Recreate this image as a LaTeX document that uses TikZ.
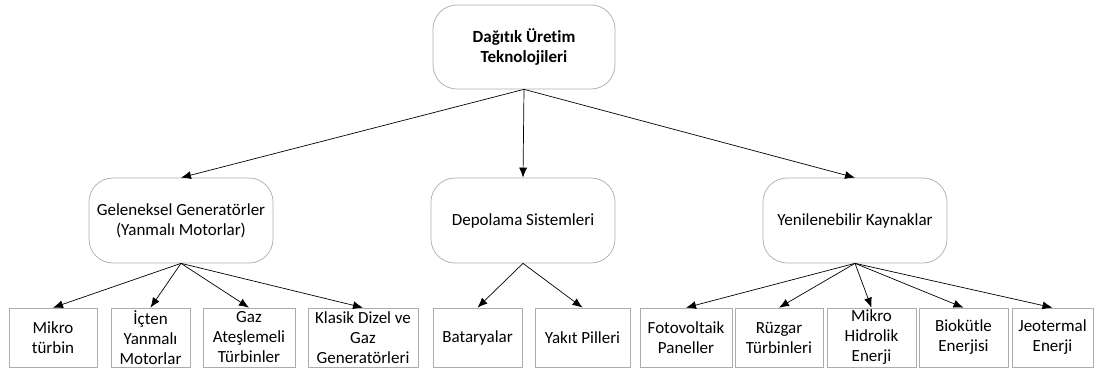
\documentclass[tikz,border=0pt]{standalone}
\usepackage{fontspec}
\setmainfont[Ligatures=NoCommon]{Carlito}
\usetikzlibrary{arrows.meta}
\tikzset{
  yazi/.style={font=\fontsize{17}{20}\selectfont},
  grupkutu/.style={draw=gray!65, line width=0.7pt, rounded corners=24pt, align=center, inner sep=0pt, minimum width=184pt, minimum height=85pt, yazi},
  altkutu/.style={draw=gray!65, line width=0.7pt, align=center, inner sep=0pt, minimum height=59pt, yazi},
  ok/.style={-{Latex[length=10pt,width=8pt]}, line width=0.7pt}
}
\begin{document}
\begin{tikzpicture}[x=1pt,y=-1pt]
    \useasboundingbox (0,0) rectangle (1094,369); % fixes the page size
    % top and middle level
    \node[grupkutu, minimum width=182pt, minimum height=84pt, font=\fontsize{17}{20}\selectfont\bfseries] (ana) at (524,47) {Dağıtık Üretim\\Teknolojileri};
    \node[grupkutu] (geleneksel) at (181,220.5) {Geleneksel Generatörler\\(Yanmalı Motorlar)};
    \node[grupkutu] (depolama) at (523,220.5) {Depolama Sistemleri};
    \node[grupkutu] (yenilenebilir) at (855,220.5) {Yenilenebilir Kaynaklar};
    % bottom level
    \node[altkutu, minimum width=88pt] (mikro) at (53,337.5) {Mikro\\türbin};
    \node[altkutu, minimum width=79pt] (icten) at (150.5,337.5) {İçten\\Yanmalı\\Motorlar};
    \node[altkutu, minimum width=92pt] (gaz) at (249,337.5) {Gaz\\Ateşlemeli\\Türbinler};
    \node[altkutu, minimum width=110pt] (klasik) at (363,337.5) {Klasik Dizel ve\\Gaz\\Generatörleri};
    \node[altkutu, minimum width=89pt] (batarya) at (477.5,337.5) {Bataryalar};
    \node[altkutu, minimum width=95pt] (yakit) at (582.5,337.5) {Yakıt Pilleri};
    \node[altkutu, minimum width=92pt] (foto) at (686,337.5) {Fotovoltaik\\Paneller};
    \node[altkutu, minimum width=88pt] (ruzgar) at (779,337.5) {Rüzgar\\Türbinleri};
    \node[altkutu, minimum width=89pt] (hidro) at (871.5,337.5) {Mikro\\Hidrolik\\Enerji};
    \node[altkutu, minimum width=89pt] (biokutle) at (963.5,337.5) {Biokütle\\Enerjisi};
    \node[altkutu, minimum width=81pt] (jeo) at (1052.5,337.5) {Jeotermal\\Enerji};
    % arrows
    \foreach \c in {geleneksel,depolama,yenilenebilir}
      \draw[ok] (ana.south) -- (\c.north);
    \foreach \c in {mikro,icten,gaz,klasik}
      \draw[ok] (geleneksel.south) -- (\c.north);
    \foreach \c in {batarya,yakit}
      \draw[ok] (depolama.south) -- (\c.north);
    \foreach \c in {foto,ruzgar,hidro,biokutle,jeo}
      \draw[ok] (yenilenebilir.south) -- (\c.north);
\end{tikzpicture}
\end{document}
